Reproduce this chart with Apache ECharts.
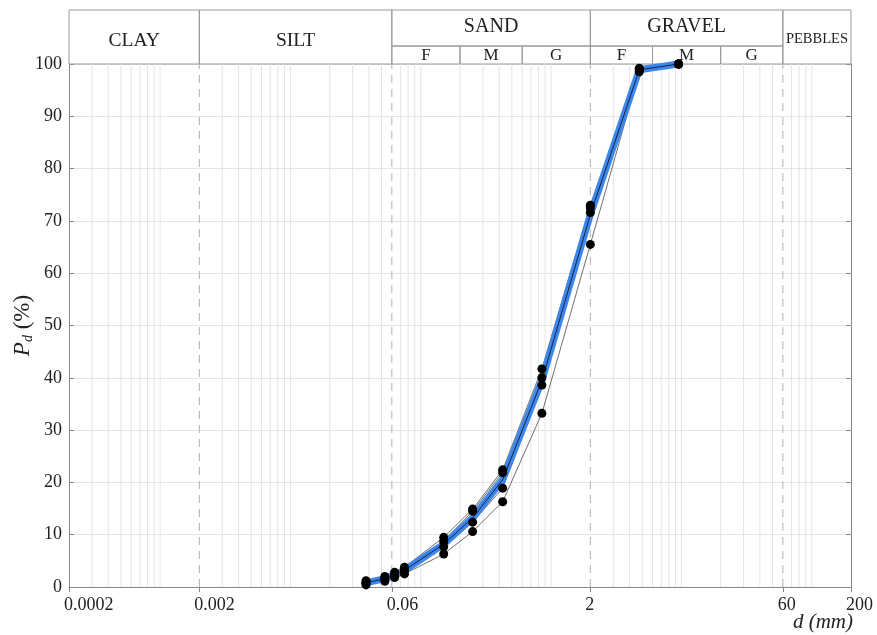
<!DOCTYPE html>
<html>
<head>
<meta charset="utf-8">
<script src="https://cdn.jsdelivr.net/npm/echarts@6/dist/echarts.min.js"></script>
<style>html,body{margin:0;padding:0;background:#fff}#main{width:877px;height:635px}</style>
</head>
<body>
<div id="main"></div>
<script>
// sieve openings (mm)
var sieves = [0.038, 0.053, 0.063, 0.075, 0.15, 0.25, 0.425, 0.85, 2, 4.75, 9.5];
// passing (%) of each tested sample
var sample1 = [1.2, 2.0, 2.8, 3.8, 9.5, 14.9, 22.4, 41.7, 73.0, 99.2, 100];
var sample2 = [0.9, 1.7, 2.4, 3.4, 8.7, 14.5, 21.9, 40.0, 72.5, 99.0, 100];
var sample3 = [0.7, 1.4, 2.1, 3.0, 7.7, 12.4, 18.9, 38.6, 71.6, 98.7, 100];
var sample4 = [0.4, 1.1, 1.8, 2.5, 6.3, 10.6, 16.3, 33.2, 65.5, 98.5, 100];
// average curve (blue band)
var meanCurve = [0.8, 1.6, 2.3, 3.2, 8.2, 13.2, 20.5, 39.5, 71.2, 98.9, 100];

var xTickValues = [0.0002, 0.002, 0.06, 2, 60, 200];
var classLimits = [0.002, 0.06, 2, 60];
var mainClasses = [['CLAY', 0.0002, 0.002], ['SILT', 0.002, 0.06], ['SAND', 0.06, 2], ['GRAVEL', 2, 60], ['PEBBLES', 60, 200]];
var subClasses = [['F', 0.06, 0.2], ['M', 0.2, 0.6], ['G', 0.6, 2], ['F', 2, 6], ['M', 6, 20], ['G', 20, 60]];

var serif = 'Liberation Serif';
var samples = [sample1, sample2, sample3, sample4];

function pairs(vals) {
    return sieves.map(function (s, i) { return [s, vals[i]]; });
}

// light vertical grid at 1..9 x 10^n, class limits drawn dashed
var minorGrid = [];
for (var e = -4; e <= 2; e++) {
    for (var k = 1; k <= 9; k++) {
        var v = +(k * Math.pow(10, e)).toPrecision(3);
        if (v <= 0.0002 || v >= 200) continue;
        if (classLimits.indexOf(v) >= 0) continue;
        minorGrid.push(v);
    }
}

var headerAreas = mainClasses.map(function (c) {
    var sub = (c[0] == 'SAND' || c[0] == 'GRAVEL');
    var lab = { fontSize: 19.5, offset: [0, 4] };
    if (c[0] == 'PEBBLES') lab = { fontSize: 14.5, offset: [0, 2] };
    if (sub) { lab.fontSize = 20; lab.offset = [0, -1]; }
    return [{ name: c[0], xAxis: c[1], yAxis: sub ? 1 : 0, label: lab }, { xAxis: c[2], yAxis: 3 }];
});
subClasses.forEach(function (c) {
    headerAreas.push([{ name: c[0], xAxis: c[1], yAxis: 0, label: { fontSize: 17, offset: [0, 1] } }, { xAxis: c[2], yAxis: 1 }]);
});

var series = [];
// header boxes
series.push({
    type: 'line', xAxisIndex: 1, yAxisIndex: 2, data: [],
    markArea: {
        silent: true,
        itemStyle: { color: 'rgba(0,0,0,0)', borderColor: '#999', borderWidth: 1 },
        label: { show: true, position: 'inside', color: '#222', fontFamily: serif },
        data: headerAreas
    }
});
// vertical grid lines
minorGrid.forEach(function (v) {
    series.push({
        type: 'line', data: [[v, 0], [v, 100]], showSymbol: false, silent: true, z: 1,
        lineStyle: { color: '#e4e4e4', width: 1 }
    });
});
classLimits.forEach(function (v) {
    series.push({
        type: 'line', data: [[v, 0], [v, 100]], showSymbol: false, silent: true, z: 1,
        lineStyle: { color: '#b0b0b0', width: 1, type: [8, 6] }
    });
});
samples.forEach(function (s) {
    series.push({
        type: 'line', data: pairs(s), showSymbol: false, z: 2,
        lineStyle: { color: '#707070', width: 1 }
    });
});
series.push({
    type: 'line', data: pairs(meanCurve), showSymbol: false, z: 10,
    lineStyle: { color: '#3d86ec', width: 7, opacity: 1 }
});
series.push({
    type: 'line', data: pairs(meanCurve), showSymbol: false, z: 11,
    lineStyle: { color: '#15253f', width: 1 }
});
var dots = [];
samples.forEach(function (s) { dots = dots.concat(pairs(s)); });
series.push({
    type: 'scatter', data: dots, z: 12, symbolSize: 9,
    itemStyle: { color: '#000', opacity: 1 }
});

var chart = echarts.init(document.getElementById('main'));
chart.setOption({
    animation: false,
    backgroundColor: '#fff',
    grid: [
        { left: 69, right: 26, top: 64, bottom: 48, outerBoundsMode: 'none' },
        { left: 69, right: 26, top: 10, height: 54, outerBoundsMode: 'none' }
    ],
    xAxis: [{
        type: 'log', logBase: 10, min: 0.0002, max: 200,
        name: 'd (mm)', nameLocation: 'end', nameGap: 2, nameMoveOverlap: false,
        nameTextStyle: { fontFamily: serif, fontStyle: 'italic', fontSize: 21, color: '#222', align: 'right', verticalAlign: 'top', padding: [25, 0, 0, 0] },
        axisLine: { show: true, lineStyle: { color: '#888' } },
        axisTick: { show: true, customValues: xTickValues, length: 5, lineStyle: { color: '#888' } },
        axisLabel: {
            customValues: xTickValues, fontFamily: serif, fontSize: 18, color: '#222', margin: 9,
            align: 'left', padding: [0, 0, 0, -5],
            formatter: function (v) { return String(+(+v).toPrecision(4)); }
        },
        splitLine: { show: false }, minorTick: { show: false }
    }, {
        type: 'log', logBase: 10, min: 0.0002, max: 200, gridIndex: 1, show: false
    }],
    yAxis: [{
        type: 'value', min: 0, max: 100, interval: 10,
        name: '{p|P}{d|d}{t| (%)}', nameLocation: 'middle', nameGap: 34, nameMoveOverlap: false,
        nameTextStyle: {
            rich: {
                p: { fontFamily: serif, fontStyle: 'italic', fontSize: 23, color: '#222' },
                d: { fontFamily: serif, fontStyle: 'italic', fontSize: 14, color: '#222', padding: [11, 0, 0, 0] },
                t: { fontFamily: serif, fontSize: 23, color: '#222' }
            }
        },
        axisLine: { show: true, lineStyle: { color: '#888' } },
        axisTick: { show: true, inside: true, length: 5, lineStyle: { color: '#888' } },
        axisLabel: { fontFamily: serif, fontSize: 18, color: '#222', margin: 7 },
        splitLine: { show: true, lineStyle: { color: '#e4e4e4' } }
    }, {
        type: 'value', min: 0, max: 100, interval: 10, position: 'right',
        axisLine: { show: true, lineStyle: { color: '#888' } },
        axisTick: { show: true, inside: true, length: 5, lineStyle: { color: '#888' } },
        axisLabel: { show: false }, splitLine: { show: false }
    }, {
        type: 'value', min: 0, max: 3, gridIndex: 1, show: false
    }],
    series: series
});
</script>
</body>
</html>
